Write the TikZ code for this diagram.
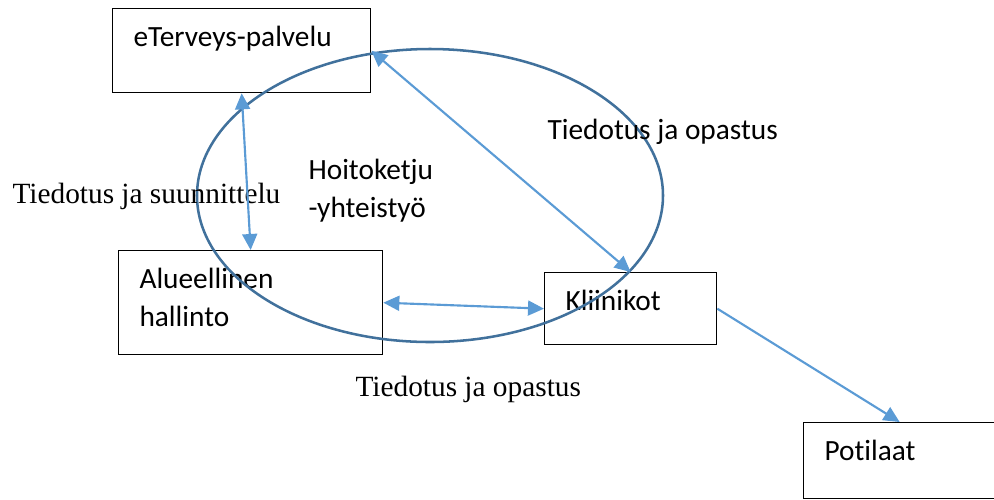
\documentclass[tikz,border=0pt]{standalone}
\usepackage{fontspec}
\setmainfont{Carlito}[Ligatures=NoCommon]
\newfontfamily\timesfont{Liberation Serif}
\usetikzlibrary{arrows.meta}
\definecolor{NuoliSininen}{HTML}{5B9BD5}
\definecolor{RengasSininen}{HTML}{41719C}
\newcommand{\px}{0.375pt}
\tikzset{
  laatikko/.style = {draw, inner sep=0pt, anchor=north west, line width=0.5pt},
  teksti/.style   = {anchor=base west, inner sep=0pt, align=left,
                     xshift=21*\px, yshift=-38*\px},
  selite/.style   = {anchor=base west, inner sep=0pt, align=left},
  seliteserif/.style = {selite, font=\timesfont\fontsize{11}{14.25}\selectfont},
  nuoli/.style    = {-{Triangle[length=6pt,width=5.6pt]}, NuoliSininen, line width=0.8pt},
  nuolet/.style   = {{Triangle[length=6pt,width=5.6pt]}-{Triangle[length=6pt,width=5.6pt]},
                     NuoliSininen, line width=0.8pt},
  rengas/.style   = {RengasSininen, line width=0.95pt},
}

\begin{document}
\begin{tikzpicture}[x=\px, y=-\px, font=\fontsize{11}{14.25}\selectfont]
  \useasboundingbox (0,0) rectangle (994,499);

  % Laatikot
  \node[laatikko, minimum width=258*\px, minimum height=84*\px,
        label={[teksti]north west:eTerveys-palvelu}] (eterveys) at (112,8) {};
  \node[laatikko, minimum width=264*\px, minimum height=104*\px,
        label={[teksti, yshift=-38*\px]north west:Alueellinen\\hallinto}] (alue) at (118,250) {};
  \node[laatikko, minimum width=172*\px, minimum height=72*\px,
        label={[teksti]north west:Kliinikot}] (kliinikot) at (544,272) {};
  \node[laatikko, minimum width=192*\px, minimum height=76*\px,
        label={[teksti]north west:Potilaat}] (potilaat) at (803,422) {};

  % Hoitoketju-rengas
  \draw[rengas] (430,195.5) ellipse [x radius=233, y radius=146.5];

  % Selitteet
  \node[selite] (hoito) at (308,217) {Hoitoketju\\-yhteistyö};
  \node[selite] (opastus1) at (547,139) {Tiedotus ja opastus};
  \node[seliteserif] (suunn) at (12,203) {Tiedotus ja suunnittelu};
  \node[seliteserif] (opastus2) at (355,396) {Tiedotus ja opastus};

  % Nuolet
  \draw[nuolet] (eterveys.south) -- (alue.north);
  \draw[nuolet] (eterveys.east) -- (kliinikot.north);
  \draw[nuolet] (alue.east) -- (kliinikot.west);
  \draw[nuoli] (kliinikot.east) -- (potilaat.north);
\end{tikzpicture}
\end{document}
